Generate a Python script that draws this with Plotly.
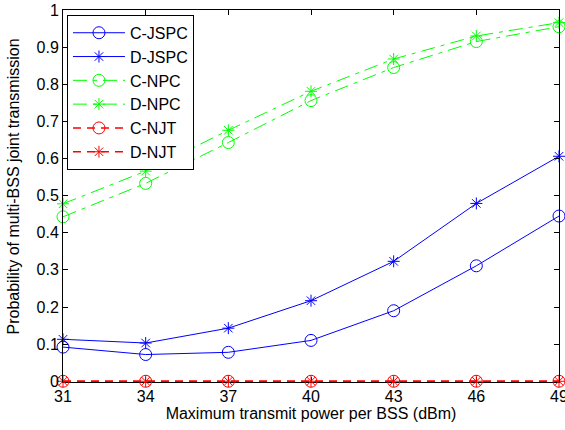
import plotly.graph_objects as go

power = [31, 34, 37, 40, 43, 46, 49]
c_jspc = [0.092, 0.072, 0.078, 0.110, 0.190, 0.311, 0.445]
d_jspc = [0.113, 0.103, 0.143, 0.217, 0.323, 0.479, 0.606]
c_npc = [0.443, 0.533, 0.643, 0.756, 0.845, 0.915, 0.955]
d_npc = [0.478, 0.566, 0.676, 0.781, 0.868, 0.930, 0.966]
c_njt = [0, 0, 0, 0, 0, 0, 0]
d_njt = [0, 0, 0, 0, 0, 0, 0]
y_ticks = [0, 0.1, 0.2, 0.3, 0.4, 0.5, 0.6, 0.7, 0.8, 0.9, 1]
y_labels = ["0", "0.1", "0.2", "0.3", "0.4", "0.5", "0.6", "0.7", "0.8", "0.9", "1"]

series = [
    ("C-JSPC", c_jspc, "#0000ff", "solid", "circle-open", 1),
    ("D-JSPC", d_jspc, "#0000ff", "solid", "asterisk-open", 1),
    ("C-NPC", c_npc, "#00ff00", "14px,6px,4px,6px", "circle-open", 1),
    ("D-NPC", d_npc, "#00ff00", "14px,6px,4px,6px", "asterisk-open", 1),
    ("C-NJT", c_njt, "#ff0000", "8px,6px", "circle-open", 1.5),
    ("D-NJT", d_njt, "#ff0000", "8px,6px", "asterisk-open", 1.5),
]

FONT = "Liberation Sans, Arial, sans-serif"

fig = go.Figure()
for name, vals, color, dash, sym, lw in series:
    fig.add_trace(go.Scatter(
        x=power, y=vals, name=name, mode="lines+markers",
        legendgroup=name,
        line=dict(color=color, width=lw, dash=dash),
        marker=dict(symbol=sym, size=12 if "circle" in sym else 10,
                    color=color, line=dict(color=color, width=1)),
        cliponaxis=False,
    ))

axis_common = dict(
    showline=True, linecolor="black", linewidth=1, mirror="ticks",
    ticks="inside", ticklen=5, tickcolor="black", showgrid=False,
    zeroline=False, automargin=False, ticklabeloverflow="allow",
    tickfont=dict(family=FONT, size=16, color="black"),
)

fig.update_layout(
    width=565, height=430,
    margin=dict(l=63, r=6, t=10, b=48),
    paper_bgcolor="white", plot_bgcolor="white",
    font=dict(family=FONT, color="black"),
    xaxis=dict(range=[31, 49], tickvals=power, ticktext=[str(p) for p in power],
               layer="below traces",
               title=dict(text="Maximum transmit power per BSS (dBm)",
                          font=dict(family=FONT, size=16), standoff=2),
               **axis_common),
    yaxis=dict(range=[-0.002, 1], tickvals=y_ticks, ticktext=y_labels, **axis_common),
    annotations=[dict(
        text="Probability of multi-BSS joint transmission",
        xref="paper", yref="paper", x=0, y=0.5255, xshift=-49,
        xanchor="center", yanchor="middle", textangle=-90, showarrow=False,
        font=dict(family=FONT, size=16, color="black"),
    )],
    legend=dict(x=0.008, y=0.987, xanchor="left", yanchor="top",
                bgcolor="white", bordercolor="black", borderwidth=1,
                font=dict(family=FONT, size=16, color="black"),
                itemwidth=52, tracegroupgap=0, traceorder="grouped"),
    showlegend=True,
)

fig.write_html(
    "out.html",
    config={"displayModeBar": False},
    post_script="document.body.style.margin='0';document.body.style.padding='0';"
                "document.body.style.overflow='hidden';",
)
